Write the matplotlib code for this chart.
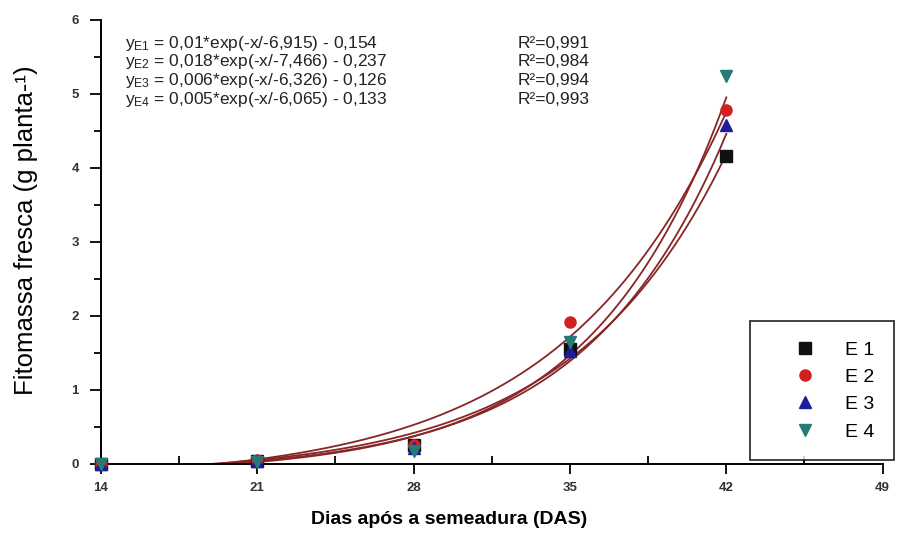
import numpy as np
import matplotlib
matplotlib.use("Agg")
import matplotlib.pyplot as plt
from matplotlib.ticker import MultipleLocator

plt.rcParams["font.family"] = ["Liberation Sans", "DejaVu Sans"]
plt.rcParams["mathtext.fontset"] = "custom"
plt.rcParams["mathtext.rm"] = "Liberation Sans"
plt.rcParams["mathtext.it"] = "Liberation Sans"

# ─── Data ────────────────────────────────────────────────────────────────────
das = [14, 21, 28, 35, 42]
series = ["E 1", "E 2", "E 3", "E 4"]
e1 = [0.0, 0.04, 0.25, 1.56, 4.16]
e2 = [0.0, 0.05, 0.25, 1.92, 4.79]
e3 = [0.0, 0.04, 0.22, 1.52, 4.58]
e4 = [0.0, 0.03, 0.17, 1.65, 5.24]

# fitted y = a*exp(-x/b) - c
fit_a = [0.01, 0.018, 0.006, 0.005]
fit_b = [-6.915, -7.466, -6.326, -6.065]
fit_c = [0.154, 0.237, 0.126, 0.133]
fit_r2 = ["0,991", "0,984", "0,994", "0,993"]
eq_labels = [
    "y$_{\\mathrm{E1}}$ = 0,01*exp(-x/-6,915) - 0,154",
    "y$_{\\mathrm{E2}}$ = 0,018*exp(-x/-7,466) - 0,237",
    "y$_{\\mathrm{E3}}$ = 0,006*exp(-x/-6,326) - 0,126",
    "y$_{\\mathrm{E4}}$ = 0,005*exp(-x/-6,065) - 0,133",
]

markers = ["s", "o", "^", "v"]
colors = ["#111111", "#d02020", "#1c1c9c", "#257a76"]
curve_color = "#862626"

# ─── Figure ──────────────────────────────────────────────────────────────────
fig = plt.figure(figsize=(8.97, 5.33), dpi=100)
ax = fig.add_axes([0.1126, 0.1295, 0.8714, 0.833])

xs = np.linspace(14, 42, 300)
for a, b, c in zip(fit_a, fit_b, fit_c):
    ax.plot(xs, a * np.exp(-xs / b) - c, color=curve_color, lw=1.3, zorder=2)

for vals, name, m, col in zip([e1, e2, e3, e4], series, markers, colors):
    ax.plot(das, vals, linestyle="none", marker=m, color=col, ms=8,
            label=name, zorder=3, clip_on=False)

ax.set_xlim(14, 49)
ax.set_ylim(0, 6)
ax.xaxis.set_major_locator(MultipleLocator(7))
ax.xaxis.set_minor_locator(MultipleLocator(3.5))
ax.yaxis.set_major_locator(MultipleLocator(1))
ax.yaxis.set_minor_locator(MultipleLocator(0.5))
ax.tick_params(axis="x", which="major", direction="out", length=7, width=1.3,
               labelsize=9.5, labelcolor="#333333", pad=6)
ax.tick_params(axis="x", which="minor", direction="in", length=6, width=1.3)
ax.tick_params(axis="y", which="major", direction="out", length=8, width=1.3,
               labelsize=9.5, labelcolor="#333333", pad=8)
ax.tick_params(axis="y", which="minor", direction="out", length=5, width=1.3)
for lbl in ax.get_xticklabels() + ax.get_yticklabels():
    lbl.set_fontweight("bold")

for side in ["top", "right"]:
    ax.spines[side].set_visible(False)
for side in ["left", "bottom"]:
    ax.spines[side].set_linewidth(1.4)

ax.set_xlabel("Dias após a semeadura (DAS)", fontsize=14, fontweight="bold")
ax.xaxis.set_label_coords(0.445, -0.105)
ax.set_ylabel("Fitomassa fresca (g planta-¹)", fontsize=18.5)
ax.yaxis.set_label_coords(-0.081, 0.527)

# equations
for i, (eq, r2) in enumerate(zip(eq_labels, fit_r2)):
    y = 0.948 - i * 0.042
    ax.text(0.0307, y, eq, fontsize=12.5, va="center", ha="left",
            color="#222222", transform=ax.transAxes)
    ax.text(0.533, y, "R²=" + r2, fontsize=12.5, va="center", ha="left",
            color="#222222", transform=ax.transAxes)

leg = ax.legend(loc="lower right", bbox_to_anchor=(1.014, 0.009),
                frameon=True, fancybox=False, edgecolor="black",
                fontsize=14, handletextpad=0.25, borderpad=1.0,
                labelspacing=0.5, handlelength=3.6, markerscale=1.0,
                borderaxespad=0.0)
leg.get_frame().set_linewidth(1.3)

plt.savefig("out.png", dpi=100)
plt.close(fig)
